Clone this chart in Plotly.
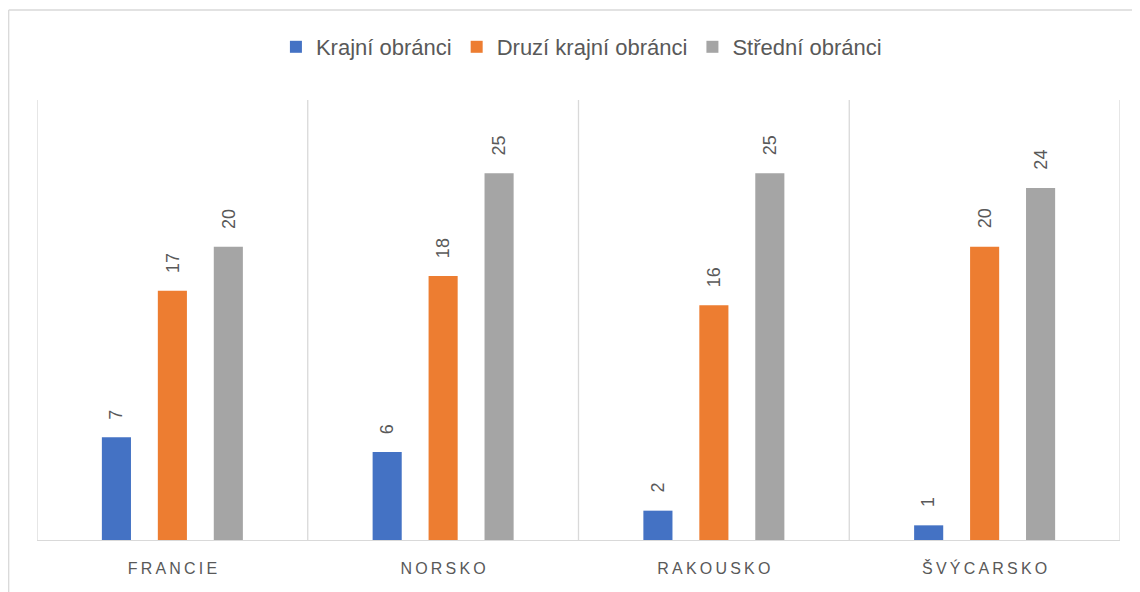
import plotly.graph_objects as go

categories = ["FRANCIE", "NORSKO", "RAKOUSKO", "ŠVÝCARSKO"]
series_names = ["Krajní obránci", "Druzí krajní obránci", "Střední obránci"]
krajni = [7, 6, 2, 1]
druzi = [17, 18, 16, 20]
stredni = [20, 25, 25, 24]
series_values = [krajni, druzi, stredni]
colors = ["#4472C4", "#ED7D31", "#A5A5A5"]

TEXT = "#595959"
GRID = "#D9D9D9"
FONT = "Liberation Sans"

fig = go.Figure()
for name, vals, col in zip(series_names, series_values, colors):
    fig.add_trace(go.Bar(
        name=name, x=categories, y=vals, marker=dict(color=col, line=dict(width=0)),
        hoverinfo="x+y+name",
    ))

# data labels (rotated), offset per series within the group
slot = 56
for si, vals in enumerate(series_values):
    for cat, v in zip(categories, vals):
        fig.add_annotation(
            x=cat, y=v, text=str(v), showarrow=False, textangle=-90,
            xanchor="center", yanchor="bottom", yshift=16,
            xshift=(si - 1) * slot,
            font=dict(family=FONT, size=18, color=TEXT),
        )

# vertical category-boundary gridlines
n = len(categories)
for i in range(n + 1):
    fig.add_shape(type="line", xref="x", yref="paper", x0=i - 0.5, x1=i - 0.5,
                  y0=0, y1=1, line=dict(color=GRID, width=1.3), layer="below")

# chart-area border (top and left edges visible)
fig.add_shape(type="line", xref="paper", yref="paper", xsizemode="pixel", ysizemode="pixel",
              xanchor=0, yanchor=1, x0=-28.3, x1=1200, y0=90, y1=90,
              line=dict(color=GRID, width=1.3))
fig.add_shape(type="line", xref="paper", yref="paper", xsizemode="pixel", ysizemode="pixel",
              xanchor=0, yanchor=1, x0=-28.3, x1=-28.3, y0=90, y1=-600,
              line=dict(color=GRID, width=1.3))

ticktext = ["\u2009".join(list(c)) for c in categories]

fig.update_layout(
    width=1140, height=592,
    margin=dict(l=29, r=28, t=92, b=60, autoexpand=False),
    paper_bgcolor="white", plot_bgcolor="white",
    barmode="group", bargap=0.38, bargroupgap=0.48,
    font=dict(family=FONT, color=TEXT),
    showlegend=True,
    legend=dict(orientation="h", xref="container", yref="container",
                x=0.503, xanchor="center", y=1 - 39 / 592, yanchor="middle",
                bgcolor="rgba(0,0,0,0)",
                font=dict(family=FONT, size=22, color=TEXT), itemwidth=30,
                traceorder="normal"),
    xaxis=dict(type="category", range=[-0.5, n - 0.5], showgrid=False, zeroline=False,
               showline=True, linecolor=GRID, linewidth=1.3,
               tickmode="array", tickvals=categories, ticktext=ticktext,
               ticks="", ticklabelstandoff=14,
               tickfont=dict(family=FONT, size=16, color=TEXT), fixedrange=True),
    yaxis=dict(range=[0, 30], showgrid=False, zeroline=False, showline=False,
               showticklabels=False, ticks="", fixedrange=True),
)

fig.write_html("out.html")
